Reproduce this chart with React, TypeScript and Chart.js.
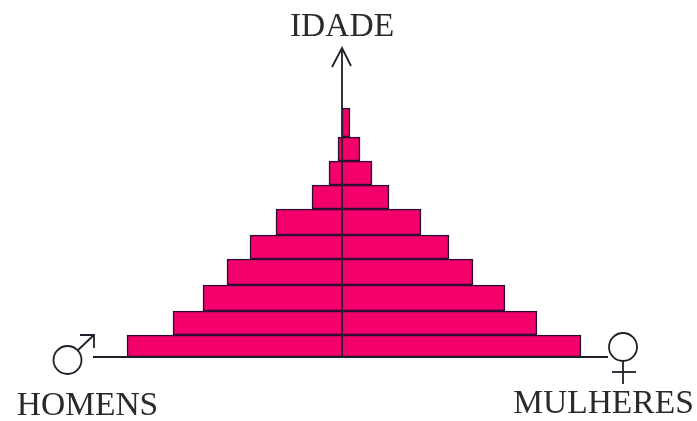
import React, { useEffect, useRef } from "react";
import { Chart, registerables } from "chart.js";

Chart.register(...registerables);

const ageEdges = [0, 22, 46, 72, 98, 122, 148, 172, 196, 220, 249];
const menByAge = [215, 169, 139, 115, 92, 66, 30, 13, 4, 0];
const womenByAge = [239, 195, 163, 131, 107, 79, 47, 30, 18, 8];
const axisTitle = "IDADE";
const menLabel = "HOMENS";
const womenLabel = "MULHERES";

const INK = "#241c2a";
const TEXT = "#2a2a2a";

const diagramPlugin = {
  id: "diagram",
  afterDatasetsDraw(chart: any) {
    const { ctx, scales } = chart;
    const X = (v: number) => scales.x.getPixelForValue(v);
    const Y = (v: number) => scales.y.getPixelForValue(v);
    const seg = (pts: number[][], w = 1.8) => {
      ctx.beginPath();
      ctx.lineWidth = w;
      pts.forEach((p, i) => (i ? ctx.lineTo(p[0], p[1]) : ctx.moveTo(p[0], p[1])));
      ctx.stroke();
    };
    ctx.save();
    ctx.strokeStyle = INK;
    ctx.lineCap = "butt";
    ctx.lineJoin = "miter";

    // axes
    const cx = X(0);
    const base = Y(0);
    seg([[cx, base], [cx, Y(309)]]);
    seg([[cx - 10, Y(290)], [cx, Y(309)], [cx + 9, Y(291)]]);
    seg([[X(-249), base], [X(266), base]]);

    // male symbol
    ctx.beginPath();
    ctx.lineWidth = 1.8;
    ctx.arc(X(-274.5), Y(-3), 14, 0, Math.PI * 2);
    ctx.stroke();
    seg([[X(-264), Y(7)], [X(-248), Y(22)]]);
    seg([[X(-262), Y(22)], [X(-248), Y(22)], [X(-248), Y(9)]]);

    // female symbol
    ctx.beginPath();
    ctx.lineWidth = 1.8;
    ctx.arc(X(281), Y(10), 14, 0, Math.PI * 2);
    ctx.stroke();
    seg([[X(281), Y(-4)], [X(281), Y(-27)]]);
    seg([[X(270), Y(-15)], [X(294), Y(-15)]]);

    // labels
    ctx.fillStyle = TEXT;
    ctx.font = '33.5px "Liberation Serif"';
    ctx.textBaseline = "alphabetic";
    ctx.textAlign = "center";
    ctx.fillText(axisTitle, X(0), Y(321));
    ctx.fillText(menLabel, X(-254.5), Y(-58));
    ctx.fillText(womenLabel, X(261.5), Y(-56));
    ctx.restore();
  },
};

export default function App() {
  const ref = useRef<HTMLCanvasElement>(null);
  useEffect(() => {
    if (!ref.current) return;
    const chart = new Chart(ref.current, {
      type: "bar",
      data: {
        datasets: menByAge.map((m, i) => ({
          data: [{ x: [-m, womenByAge[i]], y: (ageEdges[i] + ageEdges[i + 1]) / 2 }],
          barThickness: ageEdges[i + 1] - ageEdges[i],
          backgroundColor: "#f4006c",
          borderColor: "#2e0c34",
          borderWidth: 1.6,
          borderSkipped: false,
          grouped: false,
        })),
      } as any,
      options: {
        indexAxis: "y",
        animation: false,
        responsive: false,
        layout: { padding: 0 },
        plugins: { legend: { display: false }, tooltip: { enabled: false } },
        scales: {
          x: { type: "linear", min: -342, max: 355, display: false },
          y: { type: "linear", min: -64, max: 357, offset: false, display: false },
        },
      } as any,
      plugins: [diagramPlugin],
    });
    return () => chart.destroy();
  }, []);
  return (
    <div style={{ position: "absolute", left: 0, top: 0, width: 697, height: 421, background: "#fff" }}>
      <canvas ref={ref} width={697} height={421} style={{ display: "block" }} />
    </div>
  );
}
